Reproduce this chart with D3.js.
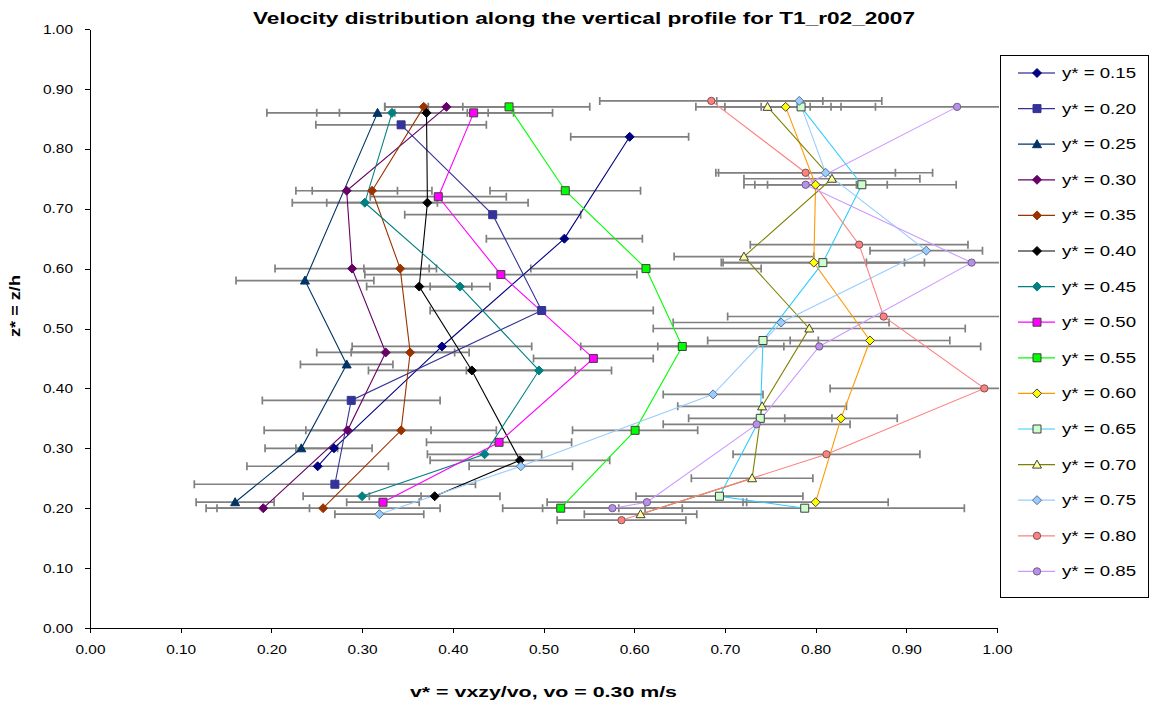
<!DOCTYPE html>
<html>
<head>
<meta charset="utf-8">
<title>Velocity distribution along the vertical profile for T1_r02_2007</title>
<script src="https://cdn.jsdelivr.net/npm/d3@7"></script>
<style>
  body { margin:0; background:#fff; }
  svg { display:block; font-family:"Liberation Sans", Arial, sans-serif; }
  .axis path, .axis line { stroke:#000; shape-rendering:crispEdges; }
  .axis text { font-size:13px; fill:#000; }
</style>
</head>
<body>
<div id="chart"></div>
<script>
// series names (legend)
var seriesNames = ["y* = 0.15","y* = 0.20","y* = 0.25","y* = 0.30","y* = 0.35",
                   "y* = 0.40","y* = 0.45","y* = 0.50","y* = 0.55","y* = 0.60",
                   "y* = 0.65","y* = 0.70","y* = 0.75","y* = 0.80","y* = 0.85"];

// z* = z/h of every point, one array per series
var zStar = [
  [0.27, 0.30, 0.47, 0.65, 0.82],
  [0.24, 0.38, 0.53, 0.69, 0.84],
  [0.21, 0.30, 0.44, 0.58, 0.86],
  [0.20, 0.33, 0.46, 0.60, 0.73, 0.87],
  [0.20, 0.33, 0.46, 0.60, 0.73, 0.87],
  [0.22, 0.28, 0.43, 0.57, 0.71, 0.86],
  [0.22, 0.29, 0.43, 0.57, 0.71, 0.86],
  [0.21, 0.31, 0.45, 0.59, 0.72, 0.86],
  [0.20, 0.33, 0.47, 0.60, 0.73, 0.87],
  [0.21, 0.35, 0.48, 0.61, 0.74, 0.87],
  [0.20, 0.22, 0.35, 0.48, 0.61, 0.74, 0.87],
  [0.19, 0.25, 0.37, 0.50, 0.62, 0.75, 0.87],
  [0.19, 0.27, 0.39, 0.51, 0.63, 0.76, 0.88],
  [0.18, 0.29, 0.40, 0.52, 0.64, 0.76, 0.88],
  [0.20, 0.21, 0.34, 0.47, 0.61, 0.74, 0.87]
];

// v* = vxzy/vo
var vStar = [
  [0.251, 0.269, 0.388, 0.523, 0.595],
  [0.270, 0.288, 0.498, 0.444, 0.343],
  [0.160, 0.233, 0.283, 0.237, 0.317],
  [0.191, 0.284, 0.326, 0.289, 0.283, 0.393],
  [0.257, 0.343, 0.353, 0.342, 0.311, 0.368],
  [0.380, 0.474, 0.421, 0.363, 0.372, 0.371],
  [0.300, 0.435, 0.495, 0.408, 0.303, 0.333],
  [0.323, 0.451, 0.555, 0.453, 0.384, 0.423],
  [0.519, 0.601, 0.653, 0.613, 0.524, 0.462],
  [0.800, 0.828, 0.860, 0.798, 0.800, 0.767],
  [0.788, 0.694, 0.739, 0.742, 0.808, 0.851, 0.784],
  [0.607, 0.730, 0.741, 0.793, 0.721, 0.818, 0.747],
  [0.319, 0.475, 0.687, 0.762, 0.922, 0.811, 0.782],
  [0.586, 0.812, 0.986, 0.875, 0.848, 0.789, 0.685],
  [0.576, 0.614, 0.735, 0.804, 0.972, 0.789, 0.956]
];

// +/- error on v*
var vErr = [
  [0.078, 0.042, 0.099, 0.086, 0.065],
  [0.155, 0.098, 0.123, 0.097, 0.094],
  [0.043, 0.040, 0.051, 0.076, 0.122],
  [0.051, 0.092, 0.076, 0.085, 0.056, 0.068],
  [0.129, 0.105, 0.065, 0.040, 0.066, 0.043],
  [0.072, 0.099, 0.114, 0.058, 0.111, 0.096],
  [0.065, 0.063, 0.080, 0.033, 0.080, 0.083],
  [0.040, 0.080, 0.066, 0.150, 0.075, 0.087],
  [0.064, 0.069, 0.112, 0.127, 0.083, 0.089],
  [0.080, 0.062, 0.088, 0.100, 0.079, 0.099],
  [0.176, 0.092, 0.079, 0.061, 0.112, 0.104, 0.044],
  [0.062, 0.067, 0.093, 0.172, 0.077, 0.097, 0.047],
  [0.049, 0.057, 0.055, 0.119, 0.062, 0.118, 0.091],
  [0.071, 0.103, 0.170, 0.172, 0.120, 0.099, 0.123],
  [0.077, 0.110, 0.103, 0.178, 0.116, 0.056, 0.139]
];

var tickValues = [0, 0.1, 0.2, 0.3, 0.4, 0.5, 0.6, 0.7, 0.8, 0.9, 1.0];

// styles
var lineColors   = ["#000080","#333399","#003366","#660066","#993300","#000000","#008080",
                    "#FF00FF","#00FF00","#FF9900","#33CCFF","#808000","#99CCFF","#FF8080","#CC99FF"];
var markerFill   = ["#000080","#333399","#003366","#660066","#993300","#000000","#008080",
                    "#FF00FF","#00FF00","#FFFF00","#CCFFCC","#FFFF99","#99CCFF","#FF8080","#B98FEE"];
var markerStroke = ["#000080","#333399","#003366","#660066","#993300","#000000","#008080",
                    "#404040","#404040","#404040","#404040","#404040","#5a6f88","#7a5555","#6f6080"];
var markerShape  = ["diamond","square","triangle","diamond","diamond","diamond","diamond",
                    "square","square","diamond","square","triangle","diamond","circle","circle"];

var W = 1154, H = 707;
var x = d3.scaleLinear().domain([0, 1]).range([90, 997]);
var y = d3.scaleLinear().domain([0, 1]).range([628, 29]);
var fmt = d3.format(".2f");

var svg = d3.select("#chart").append("svg")
  .attr("width", W).attr("height", H);

svg.append("defs").append("clipPath").attr("id", "plotclip")
  .append("rect").attr("x", 90).attr("y", 20).attr("width", 909).attr("height", 612);

function markerPath(shape) {
  if (shape == "diamond") return "M0,-4.5L4.5,0L0,4.5L-4.5,0Z";
  if (shape == "square") return "M-4,-4H4V4H-4Z";
  if (shape == "triangle") return "M0,-4.5L4.5,3.5H-4.5Z";
  return d3.symbol(d3.symbolCircle, 42)();
}

// axes
var yAxis = svg.append("g").attr("class", "axis")
  .attr("transform", "translate(90,0)")
  .call(d3.axisLeft(y).tickValues(tickValues).tickFormat(fmt).tickSize(5).tickSizeOuter(0).tickPadding(12));
yAxis.selectAll("text").attr("textLength", 30).attr("lengthAdjust", "spacingAndGlyphs");

var xAxis = svg.append("g").attr("class", "axis")
  .attr("transform", "translate(0,628)")
  .call(d3.axisBottom(x).tickValues(tickValues).tickFormat(fmt).tickSize(5).tickSizeOuter(0).tickPadding(12));
xAxis.selectAll("text").attr("textLength", 30).attr("lengthAdjust", "spacingAndGlyphs");

// build the points
var series = seriesNames.map(function(name, i) {
  return zStar[i].map(function(z, j) {
    return {s: i, z: z, v: vStar[i][j], e: vErr[i][j]};
  });
});
var allPts = [].concat.apply([], series);

var plot = svg.append("g").attr("clip-path", "url(#plotclip)");

// error bars
var eb = plot.append("g").attr("stroke", "#808080").attr("stroke-width", 1.7).attr("fill", "none");
eb.selectAll("path").data(allPts).enter().append("path")
  .attr("d", function(d) {
    var x0 = x(d.v - d.e), x1 = x(d.v + d.e), yy = y(d.z);
    return "M" + x0 + "," + yy + "H" + x1 +
           "M" + x0 + "," + (yy - 4) + "V" + (yy + 4) +
           "M" + x1 + "," + (yy - 4) + "V" + (yy + 4);
  });

// lines
var line = d3.line().x(function(d) { return x(d.v); }).y(function(d) { return y(d.z); });
plot.selectAll(".sline").data(series).enter().append("path")
  .attr("class", "sline")
  .attr("fill", "none")
  .attr("stroke-width", 1.1)
  .attr("stroke", function(d, i) { return lineColors[i]; })
  .attr("d", line);

// markers
series.forEach(function(pts, i) {
  plot.append("g").selectAll("path").data(pts).enter().append("path")
    .attr("d", markerPath(markerShape[i]))
    .attr("transform", function(d) { return "translate(" + x(d.v) + "," + y(d.z) + ")"; })
    .attr("fill", markerFill[i])
    .attr("stroke", markerStroke[i])
    .attr("stroke-width", 1);
});

// title
svg.append("text")
  .attr("x", 253).attr("y", 24)
  .attr("textLength", 662).attr("lengthAdjust", "spacingAndGlyphs")
  .style("font-size", "17px").style("font-weight", "bold")
  .text("Velocity distribution along the vertical profile for T1_r02_2007");

// axis titles
svg.append("text")
  .attr("x", 543 - 133).attr("y", 697)
  .attr("textLength", 267).attr("lengthAdjust", "spacingAndGlyphs")
  .style("font-size", "15px").style("font-weight", "bold")
  .text("v* = vxzy/vo, vo = 0.30 m/s");

svg.append("text")
  .attr("transform", "translate(20,337) rotate(-90)")
  .attr("textLength", 62).attr("lengthAdjust", "spacingAndGlyphs")
  .style("font-size", "14px").style("font-weight", "bold")
  .text("z* = z/h");

// legend
var lg = svg.append("g");
lg.append("rect").attr("x", 1000.5).attr("y", 55.5).attr("width", 148).attr("height", 542)
  .attr("fill", "#fff").attr("stroke", "#000").attr("stroke-width", 1);
var items = lg.selectAll(".item").data(seriesNames).enter().append("g")
  .attr("class", "item")
  .attr("transform", function(d, i) { return "translate(0," + (73 + i * 35.6) + ")"; });
items.append("line").attr("x1", 1018).attr("x2", 1055).attr("y1", 0).attr("y2", 0)
  .attr("stroke", function(d, i) { return lineColors[i]; }).attr("stroke-width", 1.2);
items.append("path")
  .attr("d", function(d, i) { return markerPath(markerShape[i]); })
  .attr("transform", "translate(1037,0)")
  .attr("fill", function(d, i) { return markerFill[i]; })
  .attr("stroke", function(d, i) { return markerStroke[i]; });
items.append("text").attr("x", 1062).attr("y", 5)
  .attr("textLength", 74).attr("lengthAdjust", "spacingAndGlyphs")
  .style("font-size", "14px")
  .text(function(d) { return d; });
</script>
</body>
</html>
